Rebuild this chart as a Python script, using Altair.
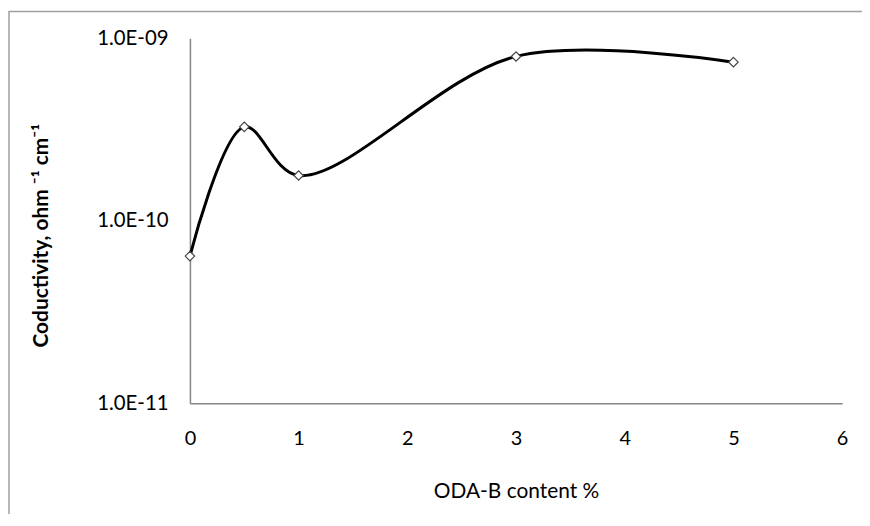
import altair as alt
import pandas as pd

# Data
oda_b_content = [0, 0.5, 1, 3, 5]
conductivity = [6.4e-11, 3.27e-10, 1.77e-10, 7.95e-10, 7.4e-10]
x_ticks = [0, 1, 2, 3, 4, 5, 6]
y_ticks = [1e-11, 1e-10, 1e-9]

df = pd.DataFrame({"x": oda_b_content, "y": conductivity})

FONT = "Lato"
AXIS_GRAY = "#868686"

x_enc = alt.X(
    "x:Q",
    scale=alt.Scale(domain=[0, 6], nice=False, zero=False),
    axis=alt.Axis(
        values=x_ticks,
        format="d",
        title="ODA-B content %",
        grid=False,
        ticks=False,
        domainColor=AXIS_GRAY,
        domainWidth=1.5,
        labelFont=FONT,
        labelFontSize=20,
        labelColor="#000000",
        labelPadding=26,
        labelFlush=False,
        titleFont=FONT,
        titleFontSize=21,
        titleFontWeight="normal",
        titleColor="#000000",
        titleY=89,
        titleBaseline="middle",
    ),
)
y_enc = alt.Y(
    "y:Q",
    scale=alt.Scale(type="log", domain=[1e-11, 1e-9], nice=False),
    axis=alt.Axis(
        values=y_ticks,
        labelExpr="datum.value < 5e-11 ? '1.0E-11' : (datum.value < 5e-10 ? '1.0E-10' : '1.0E-09')",
        title="Coductivity, ohm \u207b\u00b9 cm\u207b\u00b9",
        grid=False,
        ticks=False,
        domainColor=AXIS_GRAY,
        domainWidth=1.5,
        labelFont=FONT,
        labelFontSize=20.5,
        labelColor="#000000",
        labelPadding=22,
        titleFont=FONT,
        titleFontSize=21,
        titleFontWeight="bold",
        titleColor="#000000",
        titleX=-149,
        titleY=198,
        titleBaseline="middle",
        titleAngle=270,
    ),
)

line = alt.Chart(df).mark_line(
    interpolate="catmull-rom", color="#000000", strokeWidth=3
).encode(x=x_enc, y=y_enc)

points = alt.Chart(df).mark_point(
    shape="diamond", size=90, filled=False, fill="#ffffff", fillOpacity=1,
    stroke="#444444", strokeWidth=1.2, opacity=1
).encode(x="x:Q", y="y:Q")

frame = alt.Chart(alt.Data(values=[{"f": 1}])).mark_rect(
    fill=None, stroke="#a0a0a0", strokeWidth=1.5
).encode(
    x=alt.value(-182), x2=alt.value(900),
    y=alt.value(-27), y2=alt.value(700),
)

chart = alt.layer(frame, line, points).properties(
    width=656,
    height=367,
    autosize=alt.AutoSizeParams(type="none"),
    padding={"left": 183, "top": 29, "right": 20, "bottom": 110},
    background="#ffffff",
).configure_view(stroke=None)

chart.save("out.html", embed_options={"renderer": "svg", "actions": False})
